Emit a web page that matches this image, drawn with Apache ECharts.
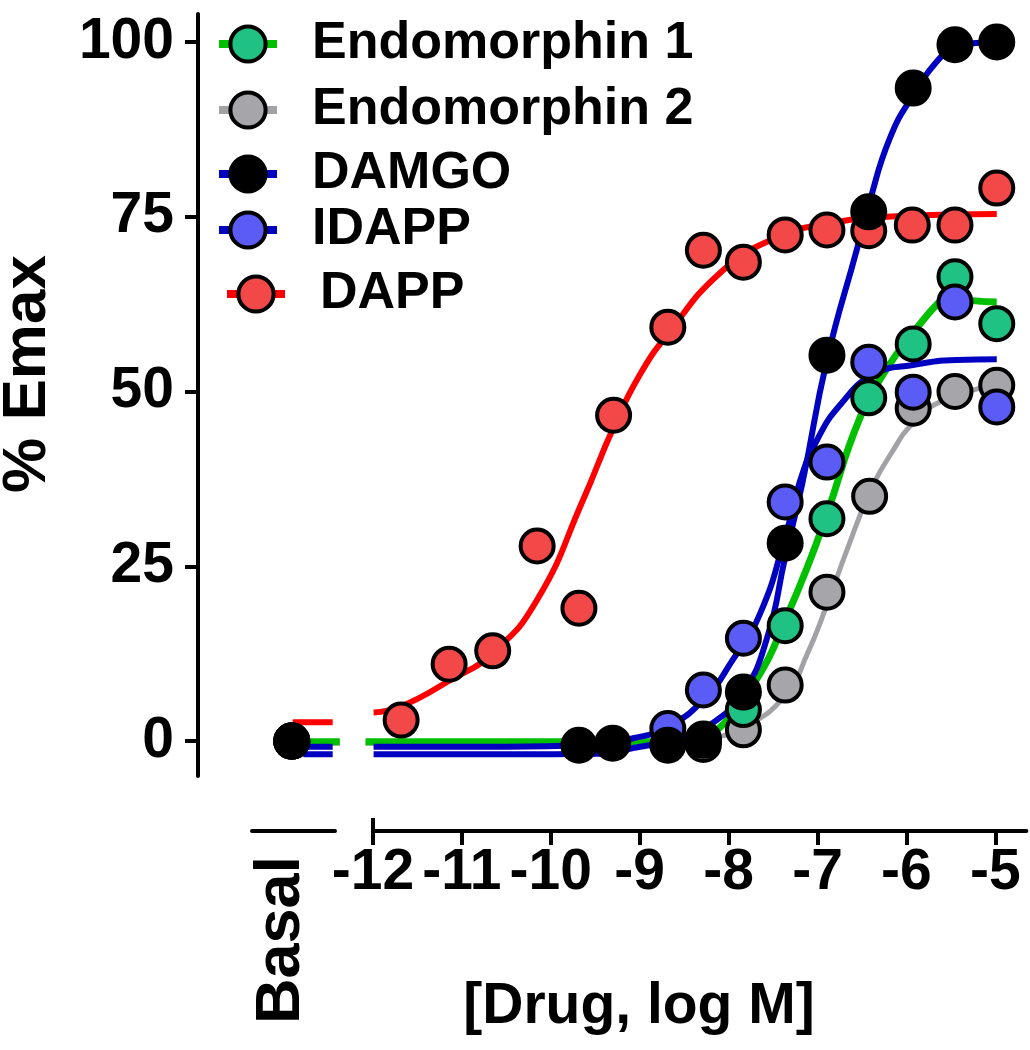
<!DOCTYPE html>
<html><head><meta charset="utf-8">
<script src="https://cdn.jsdelivr.net/npm/echarts@6/dist/echarts.min.js"></script>
<style>html,body{margin:0;padding:0;background:#fff}#c{width:1030px;height:1050px}</style>
</head><body><div id="c"></div>
<script>
// ---- tick labels / categories ----
const xTicks = [-12, -11, -10, -9, -8, -7, -6, -5];
const yTicks = [0, 25, 50, 75, 100];
const yMinorTicks = [5, 10, 15, 20, 30, 35, 40, 45, 55, 60, 65, 70, 80, 85, 90, 95];
const basalCategory = ['Basal'];
const seriesNames = ['Endomorphin 1', 'Endomorphin 2', 'DAMGO', 'IDAPP', 'DAPP'];

// ---- measured points [log M, % Emax] (basal plotted at -12.91) ----
const e1Points = [[-12.91, 0], [-8.28, 0.3], [-7.83, 4.5], [-7.36, 16.5], [-6.89, 31.8], [-6.42, 49.1], [-5.92, 56.8], [-5.45, 66.4], [-4.98, 59.7]];
const e2Points = [[-12.91, 0], [-8.28, -0.5], [-7.83, 1.6], [-7.36, 8.0], [-6.89, 21.3], [-6.41, 35.0], [-5.92, 47.6], [-5.45, 50.0], [-4.98, 50.9]];
const damgoPoints = [[-12.91, 0], [-9.68, -0.6], [-9.30, -0.3], [-8.68, -0.6], [-8.28, 0.1], [-7.83, 7.0], [-7.36, 28.3], [-6.89, 55.2], [-6.42, 75.7], [-5.92, 93.4], [-5.45, 99.6], [-4.98, 100]];
const idappPoints = [[-12.91, 0], [-8.68, 1.8], [-8.28, 7.3], [-7.83, 14.7], [-7.36, 34.2], [-6.89, 39.9], [-6.42, 54.2], [-5.92, 49.9], [-5.45, 62.8], [-4.98, 47.8]];
const dappPoints = [[-12.91, 0], [-11.68, 3.0], [-11.14, 11.0], [-10.65, 12.9], [-10.15, 27.9], [-9.68, 19.0], [-9.29, 46.6], [-8.68, 59.2], [-8.28, 70.2], [-7.83, 68.5], [-7.36, 72.4], [-6.89, 73.1], [-6.42, 73.0], [-5.93, 73.8], [-5.45, 73.8], [-4.98, 79.1]];

// ---- fitted curves ('-' = axis break gap) ----
const e1Curve = [[-12.78, -0.1], [-12.37, -0.1], [-12.2, '-'], [-12.08, -0.1], [-10, -0.1], [-8.8, -0.1], [-8.43, 0.0], [-8.09, 2.0], [-7.64, 9.7], [-7.36, 17.3], [-7.11, 24.9], [-6.89, 32.5], [-6.52, 46.2], [-6.21, 53.4], [-5.92, 58.4], [-5.62, 62.9], [-5.45, 64.5], [-5.25, 63.0], [-4.98, 62.8]];
const e2Curve = [[-12.78, -0.3], [-12.37, -0.3], [-12.2, '-'], [-12.08, -0.3], [-9, -0.3], [-8.28, 0.3], [-7.83, 2.0], [-7.36, 6.5], [-7.11, 12.5], [-6.89, 19.5], [-6.66, 27.5], [-6.41, 35.5], [-6.15, 41.5], [-5.92, 45.5], [-5.62, 48.5], [-4.98, 51.0]];
const damgoCurve = [[-12.78, -1.9], [-12.45, -1.9], [-12.2, '-'], [-11.99, -1.9], [-10.5, -1.9], [-9.44, -1.8], [-9.07, -1.0], [-8.51, 0.6], [-8.13, 3.0], [-7.83, 6.9], [-7.56, 14.9], [-7.36, 26.3], [-7.16, 37.3], [-6.89, 54.5], [-6.55, 70.5], [-6.42, 76.7], [-6.18, 86.3], [-5.92, 92.4], [-5.62, 97.7], [-5.45, 99.3], [-5.17, 99.9], [-4.98, 100]];
const idappCurve = [[-12.78, -0.8], [-12.45, -0.8], [-12.2, '-'], [-11.99, -0.8], [-10.5, -0.8], [-9.6, -0.6], [-9.07, 0.4], [-8.69, 2.0], [-8.28, 5.9], [-7.95, 11.6], [-7.64, 18.3], [-7.36, 29.2], [-7.19, 37.3], [-7.0, 43.1], [-6.74, 48.1], [-6.37, 52.4], [-5.92, 53.8], [-5.43, 54.5], [-4.98, 54.6]];
const dappCurve = [[-12.90, 2.7], [-12.45, 2.7], [-12.2, '-'], [-11.99, 4.1], [-11.69, 4.9], [-11.13, 8.7], [-10.65, 12.6], [-10.15, 20.2], [-9.63, 34.6], [-9.29, 44.9], [-8.99, 52.5], [-8.68, 58.2], [-8.09, 67.0], [-7.50, 71.8], [-6.89, 74.0], [-6.07, 75.1], [-4.98, 75.4]];

const FONT = "'Liberation Sans', Arial, sans-serif";
const styles = {
  'Endomorphin 1': { fill: '#1fc283', line: '#00c000', lw: 7 },
  'Endomorphin 2': { fill: '#a5a5aa', line: '#a2a2a6', lw: 5 },
  'DAMGO': { fill: '#000000', line: '#0000c0', lw: 6 },
  'IDAPP': { fill: '#5b5bf6', line: '#0000c0', lw: 6 },
  'DAPP': { fill: '#f24848', line: '#ff0000', lw: 6 }
};
const pointsByName = { 'Endomorphin 1': e1Points, 'Endomorphin 2': e2Points, 'DAMGO': damgoPoints, 'IDAPP': idappPoints, 'DAPP': dappPoints };
const curvesByName = { 'Endomorphin 1': e1Curve, 'Endomorphin 2': e2Curve, 'DAMGO': damgoCurve, 'IDAPP': idappCurve, 'DAPP': dappCurve };

const curveOrder = ['Endomorphin 2', 'Endomorphin 1', 'DAPP', 'IDAPP', 'DAMGO'];
const pointOrder = ['Endomorphin 2', 'Endomorphin 1', 'IDAPP', 'DAPP', 'DAMGO'];

const series = [];
curveOrder.forEach(n => {
  series.push({
    name: n + ' fit', type: 'line', xAxisIndex: 0, yAxisIndex: 0, z: 2,
    data: curvesByName[n], showSymbol: false, symbol: 'none', smooth: 0.5,
    connectNulls: false, lineStyle: { color: styles[n].line, width: styles[n].lw, cap: 'butt', join: 'round' },
    silent: true
  });
});
pointOrder.forEach(n => {
  series.push({
    name: n, type: 'line', xAxisIndex: 0, yAxisIndex: 0, z: 3,
    data: pointsByName[n], symbol: 'circle', symbolSize: 33, showSymbol: true, showAllSymbol: true,
    lineStyle: { color: styles[n].line, width: 7, opacity: 0 },
    itemStyle: { color: styles[n].fill, borderColor: '#000', borderWidth: 4 },
    silent: true
  });
});

const legendCenters = [40, 106, 170, 226, 290];
const legendLefts = [215, 215, 215, 215, 223];
const legends = seriesNames.map((n, i) => ({
  show: true, selectedMode: false, orient: 'vertical',
  left: legendLefts[i], top: legendCenters[i] - 22,
  itemWidth: 58, itemHeight: 44, padding: 0,
  data: [{ name: n, lineStyle: { color: styles[n].line, width: 8, opacity: 1 }, itemStyle: { color: styles[n].fill, borderColor: '#000', borderWidth: 4 } }],
  textStyle: { fontFamily: FONT, fontWeight: 'bold', fontSize: 52, color: '#000', lineHeight: 44, padding: [0, 0, 0, 30] }
}));

const option = {
  animation: false,
  backgroundColor: '#fff',
  legend: legends,
  grid: [
    { left: 198, top: 14, width: 832, height: 762 },
    { left: 252, top: 830, width: 83, height: 1 },
    { left: 373, top: 830, width: 653.4, height: 1 },
    { left: 240, top: 830, width: 83, height: 1 }
  ],
  xAxis: [
    { gridIndex: 0, type: 'value', min: -13.965, max: -4.606, show: false },
    { gridIndex: 1, type: 'category', data: basalCategory, position: 'bottom',
      axisLine: { lineStyle: { color: '#000', width: 4 } }, axisTick: { show: false },
      axisLabel: { show: false } },
    { gridIndex: 2, type: 'value', min: -12, max: -4.65, position: 'bottom',
      axisLine: { lineStyle: { color: '#000', width: 4 } },
      axisTick: { customValues: xTicks, length: 14, lineStyle: { color: '#000', width: 4 } },
      axisLabel: { customValues: xTicks, margin: 14, color: '#000', fontFamily: FONT, fontWeight: 'bold', fontSize: 57 },
      splitLine: { show: false } },
    { gridIndex: 2, type: 'value', min: -12, max: -4.65, position: 'bottom',
      axisLine: { show: false },
      axisTick: { customValues: [-12], inside: true, length: 13, lineStyle: { color: '#000', width: 4 } },
      axisLabel: { show: false }, splitLine: { show: false } },
    { gridIndex: 3, type: 'category', data: basalCategory, position: 'bottom',
      axisLine: { show: false }, axisTick: { show: false },
      axisLabel: { rotate: 90, margin: 25, color: '#000', fontFamily: FONT, fontWeight: 'bold', fontSize: 63 } }
  ],
  yAxis: [
    { gridIndex: 0, type: 'value', min: -5, max: 104,
      axisLine: { show: true, lineStyle: { color: '#000', width: 4 } },
      axisTick: { show: true, customValues: yTicks, length: 13, lineStyle: { color: '#000', width: 4 } },
      axisLabel: { customValues: yTicks, margin: 24, color: '#000', fontFamily: FONT, fontWeight: 'bold', fontSize: 57 },
      splitLine: { show: false } },
    { gridIndex: 0, type: 'value', min: -5, max: 104,
      axisLine: { show: false },
      axisTick: { show: true, customValues: yMinorTicks, length: 8, lineStyle: { color: '#000', width: 3.5 } },
      axisLabel: { show: false }, splitLine: { show: false } },
    { gridIndex: 1, type: 'value', show: false },
    { gridIndex: 2, type: 'value', show: false },
    { gridIndex: 3, type: 'value', show: false }
  ],
  graphic: [
    { type: 'text', x: 28, y: 374, rotation: Math.PI / 2,
      style: { text: '% Emax', fontFamily: FONT, fontWeight: 'bold', fontSize: 62, fill: '#000', align: 'center', verticalAlign: 'middle' } },
    { type: 'text', x: 639, y: 1007,
      style: { text: '[Drug, log M]', fontFamily: FONT, fontWeight: 'bold', fontSize: 57, fill: '#000', align: 'center', verticalAlign: 'middle' } }
  ],
  series: series
};

const chart = echarts.init(document.getElementById('c'), null, { renderer: 'canvas' });
chart.setOption(option);
</script>
</body></html>
